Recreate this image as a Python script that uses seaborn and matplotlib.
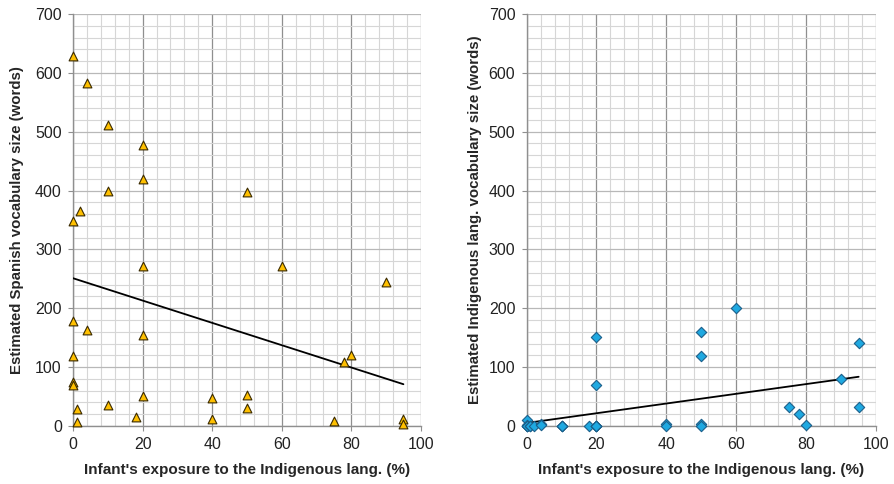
import numpy as np
import pandas as pd
import seaborn as sns
import matplotlib.pyplot as plt
from matplotlib.ticker import MultipleLocator

# Spanish vocabulary vs exposure (left panel)
spa_exposure = [0, 4, 10, 20, 20, 10, 50, 2, 0,
                20, 60, 90, 0, 4, 20, 0, 80, 78, 0, 0,
                20, 50, 40, 50, 10, 1, 18, 40, 1, 75, 95, 95]
spa_vocab = [628, 583, 512, 478, 420, 400, 397, 366, 348,
             271, 271, 244, 179, 163, 155, 118, 120, 109, 74, 69,
             51, 52, 48, 31, 36, 28, 16, 11, 6, 8, 11, 3]

# Indigenous vocabulary vs exposure (right panel), zeros overlap near the axis
ind_exposure = [0, 0, 0, 0, 0, 0, 1, 1, 2, 4, 4, 10, 10, 10, 18,
                20, 20, 20, 20, 20, 20, 40, 40, 50, 50, 50, 50,
                60, 75, 78, 80, 90, 95, 95]
ind_vocab = [10, 1, 0, 0, 0, 0, 0, 0, 0, 3, 1, 0, 0, 0, 0,
             0, 0, 0, 0, 69, 151, 3, 0, 4, 0, 118, 159,
             200, 32, 20, 1, 79, 141, 32]

spa = pd.DataFrame({'exposure': spa_exposure, 'vocab': spa_vocab})
ind = pd.DataFrame({'exposure': ind_exposure, 'vocab': ind_vocab})

sns.set_style('white')
plt.rcParams['font.family'] = ['Liberation Sans', 'DejaVu Sans']

fig = plt.figure(figsize=(8.94, 4.84), dpi=100)
ax1 = fig.add_axes([0.0817, 0.12, 0.389, 0.851])
ax2 = fig.add_axes([0.589, 0.12, 0.391, 0.851])

xlab = "Infant's exposure to the Indigenous lang. (%)"

for ax, df, marker, face, edge, ylab, pad in [
    (ax1, spa, '^', '#FFC000', '#3a2a00', 'Estimated Spanish vocabulary size (words)', 8),
    (ax2, ind, 'D', '#1FA9E1', '#1b5f8a', 'Estimated Indigenous lang. vocabulary size (words)', 5),
]:
    sns.regplot(data=df, x='exposure', y='vocab', ax=ax, scatter=False, ci=None,
                truncate=True, color='black', line_kws={'lw': 1.3, 'zorder': 3})
    sns.scatterplot(data=df, x='exposure', y='vocab', ax=ax, marker=marker,
                    color=face, edgecolor=edge, linewidth=0.8,
                    s=40 if marker == '^' else 28, zorder=4, clip_on=False)
    ax.set_xlim(0, 100)
    ax.set_ylim(0, 700)
    ax.xaxis.set_major_locator(MultipleLocator(20))
    ax.xaxis.set_minor_locator(MultipleLocator(4))
    ax.yaxis.set_major_locator(MultipleLocator(100))
    ax.yaxis.set_minor_locator(MultipleLocator(20))
    ax.grid(which='minor', color='#d6d6d6', lw=0.8)
    ax.grid(which='major', axis='x', color='#8f8f8f', lw=0.9)
    ax.grid(which='major', axis='y', color='#b8b8b8', lw=0.9)
    ax.set_axisbelow(True)
    for s in ['top', 'right']:
        ax.spines[s].set_visible(False)
    for s in ['left', 'bottom']:
        ax.spines[s].set_color('#8f8f8f')
        ax.spines[s].set_linewidth(1)
    ax.tick_params(which='major', length=3.6, width=0.8, color='#8f8f8f',
                   labelsize=11.5, labelcolor='#222222', pad=4.5, left=True, bottom=True)
    ax.tick_params(which='minor', length=0)
    ax.set_xlabel(xlab, fontsize=11, fontweight='bold', labelpad=8)
    ax.set_ylabel(ylab, fontsize=10.8, fontweight='bold', labelpad=pad)

plt.savefig('out.png', dpi=100)
plt.close()
